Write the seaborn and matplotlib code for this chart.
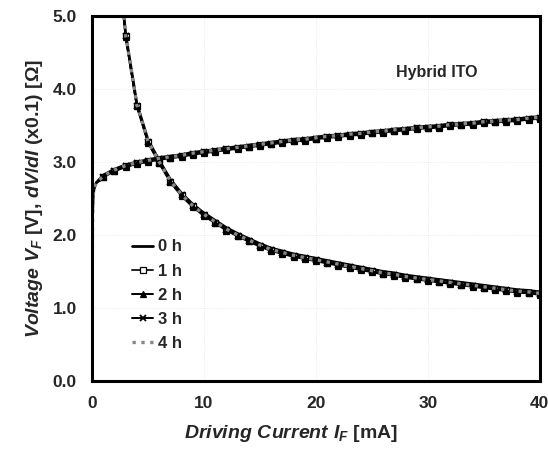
import matplotlib
matplotlib.use("Agg")
import matplotlib.pyplot as plt
import numpy as np
import pandas as pd
import seaborn as sns

# Forward voltage V_F vs driving current I_F
CURRENT_V = [0.0, 0.02, 0.05, 0.1, 0.2, 0.4, 0.7, 1, 2, 3, 4, 5, 6, 7, 8, 9, 10,
             11, 12, 13, 14, 15, 16, 17, 18, 19, 20, 21, 22, 23, 24, 25, 26, 27,
             28, 29, 30, 31, 32, 33, 34, 35, 36, 37, 38, 39, 40]
VOLTAGE = [0.0, 1.5, 2.3, 2.55, 2.65, 2.72, 2.77, 2.82, 2.9, 2.96, 3.0, 3.03,
           3.06, 3.08, 3.1, 3.13, 3.15, 3.17, 3.19, 3.21, 3.23, 3.25, 3.27, 3.29,
           3.31, 3.32, 3.34, 3.36, 3.37, 3.39, 3.40, 3.42, 3.43, 3.45, 3.46, 3.48,
           3.49, 3.50, 3.52, 3.53, 3.54, 3.56, 3.57, 3.58, 3.59, 3.61, 3.62]

# dV/dI (x0.1) vs driving current
CURRENT_D = [2.6, 3, 4, 5, 6, 7, 8, 9, 10, 11, 12, 13, 14, 15, 16, 17, 18, 19,
             20, 21, 22, 23, 24, 25, 26, 27, 28, 29, 30, 31, 32, 33, 34, 35, 36,
             37, 38, 39, 40]
DVDI = [5.4, 4.75, 3.8, 3.3, 3.02, 2.76, 2.57, 2.42, 2.3, 2.2, 2.1, 2.02, 1.95,
        1.88, 1.82, 1.78, 1.74, 1.71, 1.68, 1.65, 1.62, 1.59, 1.56, 1.53, 1.50,
        1.48, 1.45, 1.43, 1.41, 1.39, 1.37, 1.35, 1.33, 1.31, 1.29, 1.27, 1.25,
        1.24, 1.22]

SERIES = ["0 h", "1 h", "2 h", "3 h", "4 h"]
# small vertical differences between the aging curves
V_SHIFT = [0.0, -0.02, -0.03, -0.02, -0.01]
D_SHIFT = [0.0, -0.03, -0.04, -0.03, -0.02]

STYLES = {
    "0 h": dict(color="black", marker=None, linestyle="-", lw=2.0),
    "1 h": dict(color="#222222", marker="s", linestyle="-", lw=1.4, mfc="white", ms=4.5),
    "2 h": dict(color="black", marker="^", linestyle="-", lw=1.4, ms=4.5),
    "3 h": dict(color="black", marker="x", linestyle="-", lw=1.4, ms=4.5, mew=1.3),
    "4 h": dict(color="#888888", marker=None, linestyle=":", lw=2.4),
}

sns.set_theme(style="white")
plt.rcParams["font.family"] = ["Liberation Sans", "DejaVu Sans"]
plt.rcParams["mathtext.fontset"] = "custom"
plt.rcParams["mathtext.it"] = "Liberation Sans:italic:bold"
plt.rcParams["mathtext.rm"] = "Liberation Sans:bold"

fig = plt.figure(figsize=(5.48, 4.53), dpi=100)
ax = fig.add_axes([0.168, 0.159, 0.817, 0.806])

# no markers in the steep turn-on part, the curve is a solid band there
v_marks = [i for i, c in enumerate(CURRENT_V) if c >= 1]

for name, vs, ds in zip(SERIES, V_SHIFT, D_SHIFT):
    st = STYLES[name]
    kw = dict(color=st["color"], linestyle=st["linestyle"], linewidth=st["lw"])
    if st["marker"]:
        kw.update(marker=st["marker"], markersize=st["ms"],
                  markeredgecolor="black", markeredgewidth=st.get("mew", 0.9))
        if "mfc" in st:
            kw["markerfacecolor"] = st["mfc"]
    dfv = pd.DataFrame({"I": CURRENT_V, "V": np.array(VOLTAGE) + vs * (np.array(CURRENT_V) > 0.5)})
    dfd = pd.DataFrame({"I": CURRENT_D, "D": np.array(DVDI) + ds})
    vkw = dict(kw)
    if st["marker"]:
        vkw["markevery"] = v_marks
    sns.lineplot(data=dfv, x="I", y="V", ax=ax, label=name, sort=False,
                 estimator=None, **vkw)
    sns.lineplot(data=dfd, x="I", y="D", ax=ax, label="_nolegend_", sort=False,
                 estimator=None, **kw)

ax.set_xlim(0, 40)
ax.set_ylim(0, 5)
ax.set_xticks([0, 10, 20, 30, 40])
ax.set_yticks([0, 1, 2, 3, 4, 5])
ax.set_yticklabels([f"{v:.1f}" for v in [0, 1, 2, 3, 4, 5]])
ax.grid(True, linestyle=":", color="0.9", linewidth=0.6)
ax.tick_params(direction="in", length=4, width=1.2, labelsize=12.5, pad=11)
for lab in ax.get_xticklabels() + ax.get_yticklabels():
    lab.set_fontweight("bold")
for sp in ax.spines.values():
    sp.set_linewidth(2.2)
    sp.set_color("black")

ax.set_xlabel(r"$Driving\ Current\ I_F$ [mA]", fontsize=14, fontweight="bold")
ax.set_ylabel(r"$Voltage\ V_F$ [V], $dV/dI$ (x0.1) [Ω]", fontsize=14, fontweight="bold")
ax.xaxis.set_label_coords(0.445, -0.115)
ax.yaxis.set_label_coords(-0.105, 0.5)

ax.text(30.8, 4.23, "Hybrid ITO", fontsize=11.5, fontweight="bold", ha="center", va="center")

leg = ax.legend(loc="center left", bbox_to_anchor=(0.055, 0.235), frameon=False,
                prop={"weight": "bold", "size": 12}, handlelength=1.3,
                handletextpad=0.3, labelspacing=0.55)

fig.savefig("out.png", dpi=100)
